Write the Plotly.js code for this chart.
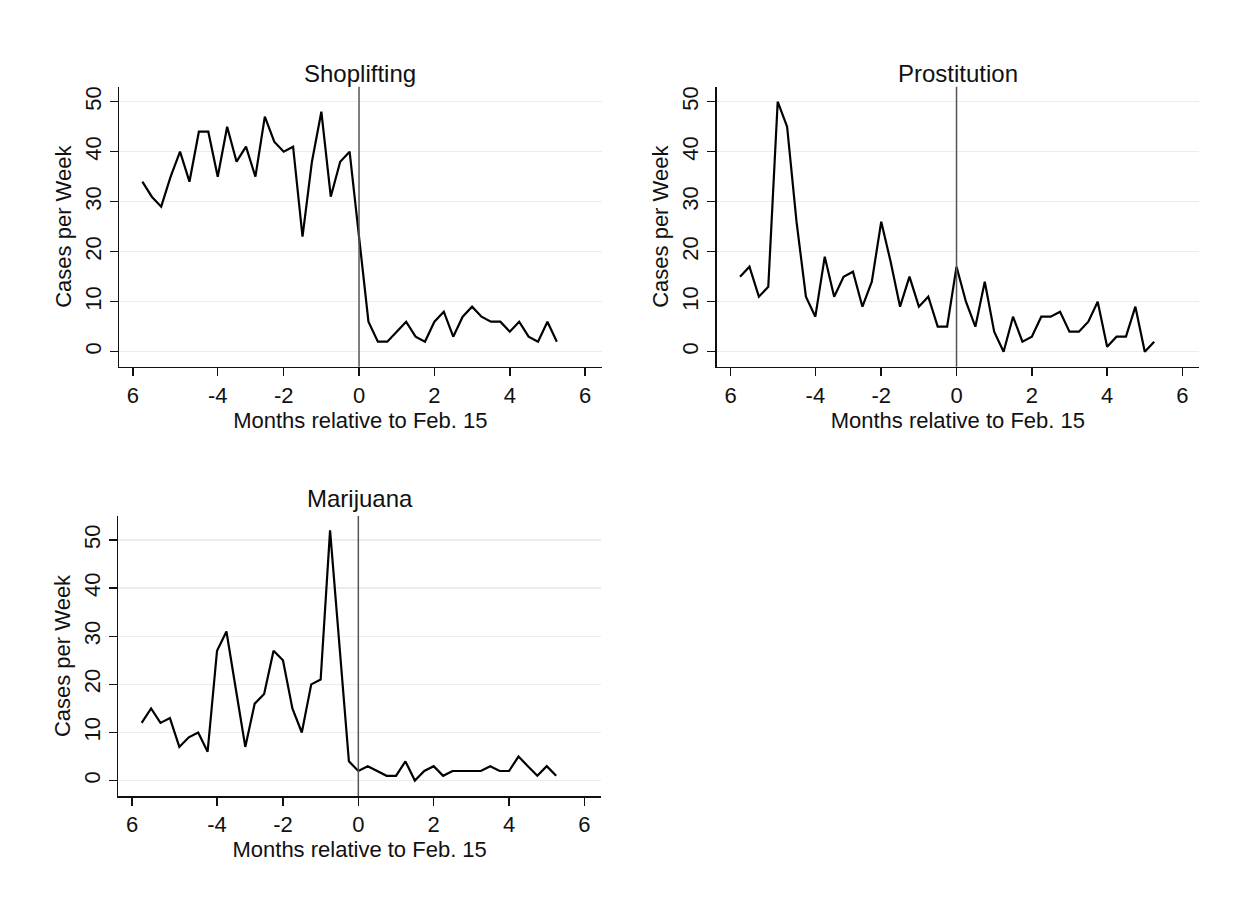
<!DOCTYPE html>
<html>
<head>
<meta charset="utf-8">
<script src="https://cdn.plot.ly/plotly-3.0.1.min.js"></script>
<style>
  html, body { margin: 0; padding: 0; background: #ffffff; }
  #chart { width: 1238px; height: 900px; }
</style>
</head>
<body>
<div id="chart"></div>
<script>
// Months relative to Feb. 15 (weekly observations)
const months = [-5.75, -5.5, -5.25, -5, -4.75, -4.5, -4.25, -4, -3.75, -3.5, -3.25, -3,
  -2.75, -2.5, -2.25, -2, -1.75, -1.5, -1.25, -1, -0.75, -0.5, -0.25, 0,
  0.25, 0.5, 0.75, 1, 1.25, 1.5, 1.75, 2, 2.25, 2.5, 2.75, 3, 3.25, 3.5, 3.75, 4,
  4.25, 4.5, 4.75, 5, 5.25];

const shoplifting = [34, 31, 29, 35, 40, 34, 44, 44, 35, 45, 38, 41,
  35, 47, 42, 40, 41, 23, 38, 48, 31, 38, 40, 23,
  6, 2, 2, 4, 6, 3, 2, 6, 8, 3, 7, 9, 7, 6, 6, 4,
  6, 3, 2, 6, 2];

const prostitution = [15, 17, 11, 13, 50, 45, 26, 11, 7, 19, 11, 15,
  16, 9, 14, 26, 18, 9, 15, 9, 11, 5, 5, 17,
  10, 5, 14, 4, 0, 7, 2, 3, 7, 7, 8, 4, 4, 6, 10, 1,
  3, 3, 9, 0, 2];

const marijuana = [12, 15, 12, 13, 7, 9, 10, 6, 27, 31, 19, 7,
  16, 18, 27, 25, 15, 10, 20, 21, 52, 28, 4, 2,
  3, 2, 1, 1, 4, 0, 2, 3, 1, 2, 2, 2, 2, 3, 2, 2,
  5, 3, 1, 3, 1];

const panelTitles = ["Shoplifting", "Prostitution", "Marijuana"];
const xTickVals = [-6, -3.75, -2, 0, 2, 4, 6];
const xTickText = ["6", "-4", "-2", "0", "2", "4", "6"];
const yTickVals = [0, 10, 20, 30, 40, 50];
const xTitle = "Months relative to Feb. 15";
const yTitle = "Cases per Week";

const FONT = "Liberation Sans, Arial, Helvetica, sans-serif";
const W = 1238, H = 900;

function xax(x0, x1) {
  return {
    domain: [x0 / W, x1 / W],
    range: [-6.37, 6.44],
    tickmode: "array", tickvals: xTickVals, ticktext: xTickText,
    ticks: "outside", ticklen: 8, tickwidth: 1.5, tickcolor: "#111",
    showline: true, linecolor: "#111", linewidth: 1.5,
    showgrid: false, zeroline: false,
    tickfont: { family: FONT, size: 22, color: "#111" },
    title: { text: xTitle, font: { family: FONT, size: 22, color: "#111" }, standoff: 3 }
  };
}
function yax(y0, y1, r) {
  return {
    domain: [1 - y1 / H, 1 - y0 / H],
    range: r,
    tickmode: "array", tickvals: yTickVals,
    ticks: "outside", ticklen: 8, tickwidth: 1.5, tickcolor: "#111",
    showline: true, linecolor: "#111", linewidth: 1.5,
    showgrid: true, gridcolor: "#e7eef0", gridwidth: 1.5,
    zeroline: false, tickangle: -90,
    tickfont: { family: FONT, size: 22, color: "#111" },
    title: { text: yTitle, font: { family: FONT, size: 22, color: "#111" }, standoff: 3 }
  };
}

const lineStyle = { color: "#000", width: 2.2 };
const traces = [
  { x: months, y: shoplifting, type: "scatter", mode: "lines", line: lineStyle, xaxis: "x", yaxis: "y", hoverinfo: "x+y" },
  { x: months, y: prostitution, type: "scatter", mode: "lines", line: lineStyle, xaxis: "x2", yaxis: "y2", hoverinfo: "x+y" },
  { x: months, y: marijuana, type: "scatter", mode: "lines", line: lineStyle, xaxis: "x3", yaxis: "y3", hoverinfo: "x+y" }
];

const vline = (xr, yr) => ({
  type: "line", xref: xr, yref: yr + " domain", x0: 0, x1: 0, y0: 0, y1: 1,
  line: { color: "#555", width: 1.5 }
});

const layout = {
  width: W, height: H,
  paper_bgcolor: "#ffffff", plot_bgcolor: "#ffffff",
  showlegend: false,
  margin: { l: 0, r: 0, t: 0, b: 0 },
  xaxis: Object.assign(xax(119, 601.7), { anchor: "y" }),
  yaxis: Object.assign(yax(86.7, 366.7, [-3, 53]), { anchor: "x" }),
  xaxis2: Object.assign(xax(716.7, 1199), { anchor: "y2" }),
  yaxis2: Object.assign(yax(86.7, 366.7, [-3, 53]), { anchor: "x2" }),
  xaxis3: Object.assign(xax(118.3, 601), { anchor: "y3" }),
  yaxis3: Object.assign(yax(516, 796, [-3.2, 55]), { anchor: "x3" }),
  shapes: [vline("x", "y"), vline("x2", "y2"), vline("x3", "y3")],
  annotations: [
    { text: panelTitles[0], xref: "paper", yref: "paper", x: 360 / W, y: 1 - 74 / H, showarrow: false, xanchor: "center", yanchor: "middle", font: { family: FONT, size: 24, color: "#111" } },
    { text: panelTitles[1], xref: "paper", yref: "paper", x: 958 / W, y: 1 - 74 / H, showarrow: false, xanchor: "center", yanchor: "middle", font: { family: FONT, size: 24, color: "#111" } },
    { text: panelTitles[2], xref: "paper", yref: "paper", x: 360 / W, y: 1 - 499 / H, showarrow: false, xanchor: "center", yanchor: "middle", font: { family: FONT, size: 24, color: "#111" } }
  ]
};

Plotly.newPlot("chart", traces, layout, { displayModeBar: false, staticPlot: true });
</script>
</body>
</html>
